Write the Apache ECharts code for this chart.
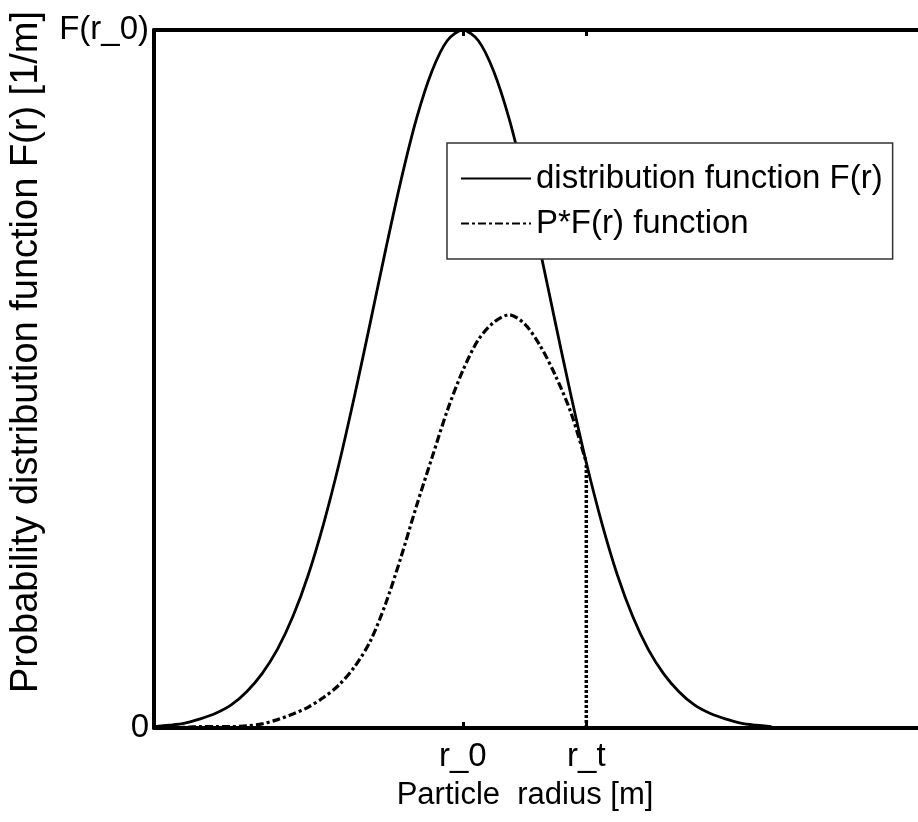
<!DOCTYPE html>
<html>
<head>
<meta charset="utf-8">
<script src="https://cdn.jsdelivr.net/npm/echarts@6/dist/echarts.min.js"></script>
<style>
  html, body { margin: 0; padding: 0; background: #fff; }
  #chart { width: 918px; height: 822px; }
</style>
</head>
<body>
<div id="chart"></div>
<script>
// radius in arbitrary units, r_0 = 40, r_t = 56
const radiusF = [0, 2, 4, 6, 8, 10, 12, 14, 16, 18, 20, 22, 24, 26, 28, 30, 32, 34, 36, 38, 40,
  42, 44, 46, 48, 50, 52, 54, 56, 58, 60, 62, 64, 66, 68, 70, 72, 74, 76, 78, 80];
const valuesF = [0.002, 0.004, 0.007, 0.013, 0.021, 0.033, 0.052, 0.078, 0.113, 0.160, 0.220,
  0.294, 0.380, 0.477, 0.580, 0.685, 0.785, 0.873, 0.941, 0.985, 1.000,
  0.985, 0.941, 0.873, 0.785, 0.685, 0.580, 0.477, 0.380, 0.294, 0.220,
  0.160, 0.113, 0.078, 0.052, 0.033, 0.021, 0.013, 0.007, 0.004, 0.002];

const radiusPF = [0, 2, 4, 6, 8, 10, 12, 14, 16, 18, 20, 22, 24, 26, 28, 30, 32, 34, 36, 38, 40,
  42, 44, 46, 48, 50, 52, 54, 56];
const valuesPF = [0.001, 0.001, 0.001, 0.002, 0.002, 0.002, 0.003, 0.006, 0.012, 0.020, 0.030,
  0.044, 0.062, 0.088, 0.124, 0.178, 0.245, 0.318, 0.387, 0.455, 0.512,
  0.556, 0.581, 0.592, 0.579, 0.548, 0.505, 0.452, 0.380];

const thresholdR = [56, 56];
const thresholdV = [0, 0.380];

const xTickValues = [40, 56];
const xTickLabels = ['r_0', 'r_t'];
const yTickValues = [0, 1];
const yTickLabels = ['0', 'F(r_0)'];

const FONT = "'Liberation Sans', Arial, sans-serif";

const zip = (xs, ys) => xs.map((x, i) => [x, ys[i]]);

const chart = echarts.init(document.getElementById('chart'));

const frameLine = { show: true, lineStyle: { color: '#000', width: 4 } };

chart.setOption({
  backgroundColor: '#fff',
  animation: false,
  grid: { left: 154, right: -8, top: 30, bottom: 94, containLabel: false, outerBoundsMode: 'none' },
  legend: {
    data: ['distribution function F(r)', 'P*F(r) function'],
    orient: 'vertical',
    left: 447,
    top: 143,
    padding: [19, 10, 19, 13],
    itemGap: 12,
    itemWidth: 70,
    itemHeight: 14,
    itemStyle: { opacity: 0 },
    backgroundColor: '#fff',
    borderColor: '#333',
    borderWidth: 1.5,
    borderRadius: 0,
    textStyle: { fontFamily: FONT, fontSize: 33, color: '#000', lineHeight: 32 }
  },
  xAxis: [
    {
      type: 'value',
      min: 0,
      max: 100,
      position: 'bottom',
      name: 'Particle  radius [m]',
      nameLocation: 'middle',
      nameGap: 52,
      nameTextStyle: { fontFamily: FONT, fontSize: 31, color: '#000', padding: [0, 30, 0, 0] },
      axisLine: frameLine,
      splitLine: { show: false },
      axisTick: { show: true, inside: true, length: 6, customValues: xTickValues,
        lineStyle: { color: '#000', width: 3 } },
      axisLabel: {
        customValues: xTickValues,
        formatter: v => xTickLabels[xTickValues.indexOf(v)],
        fontFamily: FONT, fontSize: 33, color: '#000', margin: 12
      }
    },
    {
      type: 'value',
      min: 0,
      max: 100,
      position: 'top',
      axisLine: frameLine,
      splitLine: { show: false },
      axisTick: { show: true, inside: true, length: 6, customValues: xTickValues,
        lineStyle: { color: '#000', width: 3 } },
      axisLabel: { show: false }
    }
  ],
  yAxis: {
    type: 'value',
    min: 0,
    max: 1,
    name: 'Probability distribution function F(r) [1/m]',
    nameLocation: 'middle',
    nameRotate: 90,
    nameGap: 108,
    nameTextStyle: { fontFamily: FONT, fontSize: 38, color: '#000', padding: [0, 0, 0, 54] },
    axisLine: frameLine,
    splitLine: { show: false },
    axisTick: { show: false },
    axisLabel: {
      customValues: yTickValues,
      formatter: v => yTickLabels[yTickValues.indexOf(v)],
      fontFamily: FONT, fontSize: 33, color: '#000', margin: 5
    }
  },
  series: [
    {
      name: 'P*F(r) function',
      type: 'line',
      data: zip(radiusPF, valuesPF),
      smooth: 0.3,
      showSymbol: false,
      symbol: 'none',
      lineStyle: { color: '#000', width: 3.2, type: [8, 3, 3, 3] },
      itemStyle: { color: '#000' },
      z: 2
    },
    {
      name: 'distribution function F(r)',
      type: 'line',
      data: zip(radiusF, valuesF),
      smooth: 0.3,
      showSymbol: false,
      symbol: 'none',
      lineStyle: { color: '#000', width: 2.8, type: 'solid' },
      itemStyle: { color: '#000' },
      z: 3
    },
    {
      name: 'threshold',
      type: 'line',
      data: zip(thresholdR, thresholdV),
      showSymbol: false,
      symbol: 'none',
      lineStyle: { color: '#000', width: 3.5, type: [3, 2] },
      z: 2
    }
  ]
});
</script>
</body>
</html>
